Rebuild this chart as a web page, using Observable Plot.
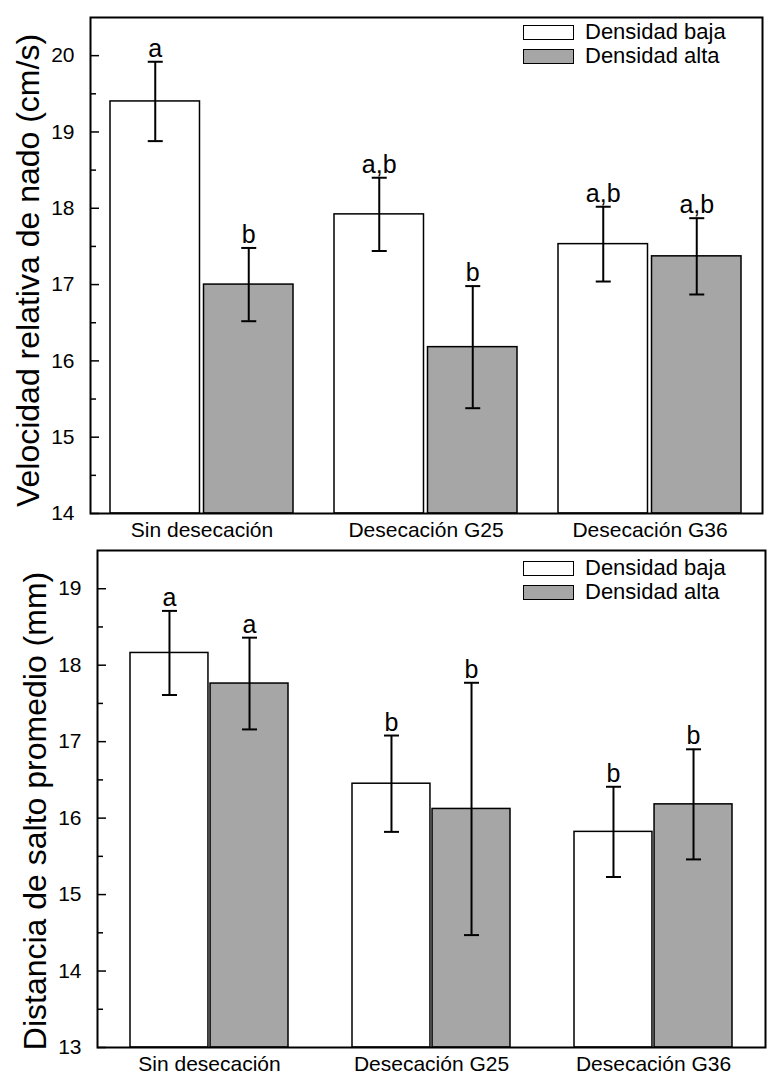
<!DOCTYPE html>
<html>
<head>
<meta charset="utf-8">
<script src="https://cdn.jsdelivr.net/npm/d3@7"></script>
<script src="https://cdn.jsdelivr.net/npm/@observablehq/plot@0.6"></script>
<style>
  body { margin: 0; background: #fff; font-family: "Liberation Sans", Arial, sans-serif; }
  .panel { position: relative; width: 768px; }
  .panel svg { display: block; }
  .legend { position: absolute; left: 523px; font-size: 22px; color: #000; line-height: 1; }
  .row { display: flex; align-items: center; }
  .sw { width: 51px; height: 15px; border: 1.5px solid #000; margin-right: 11px; box-sizing: border-box; }
</style>
</head>
<body>
<div id="chart"></div>
<script>
// ---- Data ----
const categories = ["Sin desecación", "Desecación G25", "Desecación G36"];
const densities = ["Densidad baja", "Densidad alta"];

// Panel 1: Velocidad relativa de nado (cm/s)
const velBaja = [19.40, 17.92, 17.53];
const velBajaErr = [0.52, 0.48, 0.49];
const velBajaLetters = ["a", "a,b", "a,b"];
const velAlta = [17.00, 16.18, 17.37];
const velAltaErr = [0.48, 0.80, 0.50];
const velAltaLetters = ["b", "b", "a,b"];
const velTicks = [14, 15, 16, 17, 18, 19, 20];
const velMinor = [14.5, 15.5, 16.5, 17.5, 18.5, 19.5];

// Panel 2: Distancia de salto promedio (mm)
const saltoBaja = [18.16, 16.45, 15.82];
const saltoBajaErr = [0.55, 0.63, 0.59];
const saltoBajaLetters = ["a", "b", "b"];
const saltoAlta = [17.76, 16.12, 16.18];
const saltoAltaErr = [0.60, 1.65, 0.72];
const saltoAltaLetters = ["a", "b", "b"];
const saltoTicks = [13, 14, 15, 16, 17, 18, 19];
const saltoMinor = [13.5, 14.5, 15.5, 16.5, 17.5, 18.5];

const W = 768;
const GRAY = "#a6a6a6";
const FONT = "'Liberation Sans', Arial, sans-serif";

const capSymbol = {
  draw(ctx, size) {
    const r = Math.sqrt(size / Math.PI);
    ctx.moveTo(-r, 0);
    ctx.lineTo(r, 0);
  }
};

function makePanel(o) {
  const step = (W - o.mL - o.mR) / categories.length;
  const bw = step * (1 - o.pad);
  const inset = bw / 2 + o.gap / 2;
  const off = bw / 4 + o.gap / 4;
  const rows = (vals, errs, lets, dens) => categories.map((c, i) => ({
    cat: c, dens, v: vals[i], lo: vals[i] - errs[i], hi: vals[i] + errs[i], lab: lets[i]
  }));
  const low = rows(o.low, o.lowErr, o.lowLet, densities[0]);
  const high = rows(o.high, o.highErr, o.highLet, densities[1]);
  const errMarks = (data, dx) => [
    Plot.ruleX(data, {x: "cat", y1: "lo", y2: "hi", dx, stroke: "black", strokeWidth: 2}),
    Plot.dot(data, {x: "cat", y: "hi", dx, symbol: capSymbol, r: 7.5, stroke: "black", strokeWidth: 2, fill: "none"}),
    Plot.dot(data, {x: "cat", y: "lo", dx, symbol: capSymbol, r: 7.5, stroke: "black", strokeWidth: 2, fill: "none"}),
    Plot.text(data, {x: "cat", y: "hi", dx, dy: -5, text: "lab", lineAnchor: "bottom", fontSize: 25, fill: "black"})
  ];
  const svg = Plot.plot({
    width: W, height: o.H,
    marginTop: o.mT, marginBottom: o.mB, marginLeft: o.mL, marginRight: o.mR,
    style: {fontFamily: FONT, fontSize: "20px", color: "#000", background: "#fff"},
    x: {type: "band", domain: categories, paddingInner: o.pad, paddingOuter: o.pad / 2},
    y: {domain: o.domain},
    marks: [
      Plot.barY(low, {x: "cat", y1: o.domain[0], y2: "v", fill: "white", stroke: "black", strokeWidth: 1.5, insetRight: inset}),
      Plot.barY(high, {x: "cat", y1: o.domain[0], y2: "v", fill: GRAY, stroke: "black", strokeWidth: 1.5, insetLeft: inset}),
      ...errMarks(low, -off),
      ...errMarks(high, off),
      Plot.axisY({ticks: o.major, tickFormat: d3.format("d"), tickSize: -9, tickPadding: 25, fontSize: 21, label: null, strokeWidth: 1.5}),
      Plot.axisY({ticks: o.minor, tickSize: -6, tickFormat: () => "", label: null, strokeWidth: 1.5}),
      Plot.axisX({tickSize: 0, tickPadding: 9, fontSize: 21, label: null}),
      Plot.text([o.title], {frameAnchor: "left", text: d => d, rotate: -90, dx: -62, dy: o.titleDy, fontSize: 32, textAnchor: "middle", lineAnchor: "middle", fill: "black"}),
      Plot.frame({stroke: "black", strokeWidth: 2})
    ]
  });
  const div = document.createElement("div");
  div.className = "panel";
  div.appendChild(svg);
  const leg = document.createElement("div");
  leg.className = "legend";
  leg.style.top = o.legendTop + "px";
  leg.innerHTML = densities.map((d, i) =>
    `<div class="row" style="height:${o.legendRow}px"><span class="sw" style="background:${i === 0 ? "#fff" : GRAY}"></span><span>${d}</span></div>`
  ).join("");
  div.appendChild(leg);
  return div;
}

const root = document.getElementById("chart");
root.appendChild(makePanel({
  H: 545, mT: 17, mB: 32, mL: 90, mR: 6, pad: 0.183, gap: 4,
  domain: [14, 20.5], major: velTicks, minor: velMinor,
  title: "Velocidad relativa de nado (cm/s)", titleDy: 5,
  low: velBaja, lowErr: velBajaErr, lowLet: velBajaLetters,
  high: velAlta, highErr: velAltaErr, highLet: velAltaLetters,
  legendTop: 20, legendRow: 24
}));
root.appendChild(makePanel({
  H: 539, mT: 5, mB: 37, mL: 97, mR: 3, pad: 0.29, gap: 2,
  domain: [13, 19.5], major: saltoTicks, minor: saltoMinor,
  title: "Distancia de salto promedio (mm)", titleDy: 12,
  low: saltoBaja, lowErr: saltoBajaErr, lowLet: saltoBajaLetters,
  high: saltoAlta, highErr: saltoAltaErr, highLet: saltoAltaLetters,
  legendTop: 11, legendRow: 24
}));
</script>
</body>
</html>
